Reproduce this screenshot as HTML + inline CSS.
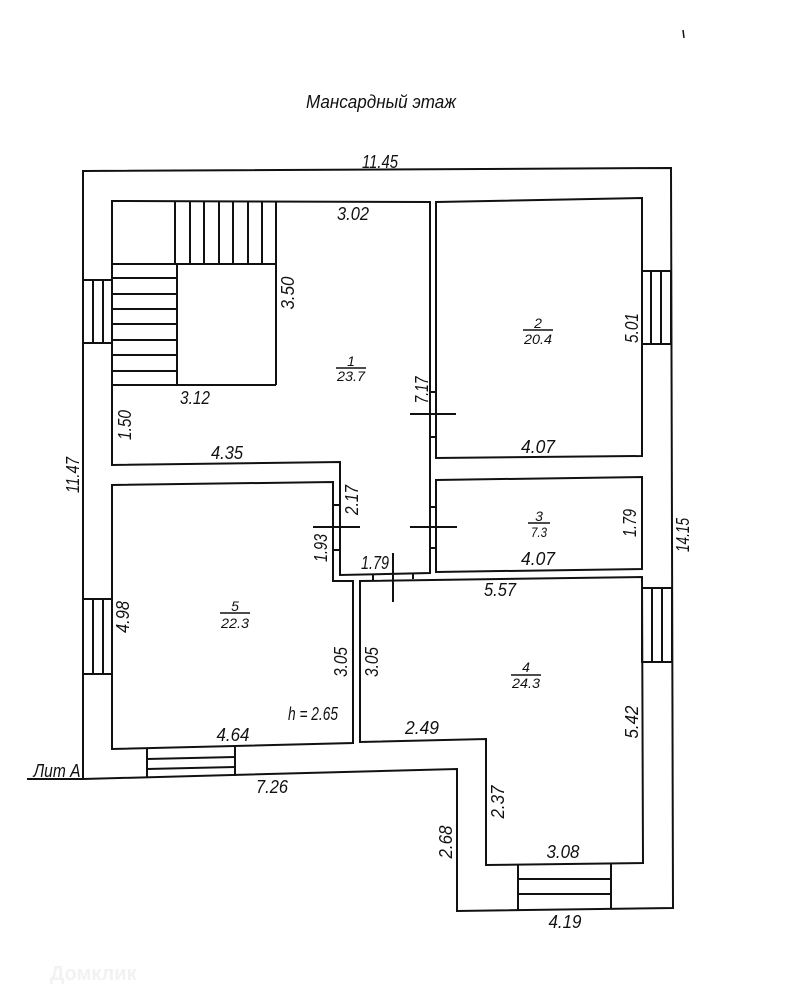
<!DOCTYPE html>
<html><head><meta charset="utf-8"><style>
html,body{margin:0;padding:0;background:#fff;}
svg{display:block;}
text{font-family:"Liberation Sans","DejaVu Sans",sans-serif;font-style:italic;fill:#111;}
.d{font-size:18px;}
.r{font-size:14px;}
</style></head><body>
<svg width="785" height="1000" viewBox="0 0 785 1000" xmlns="http://www.w3.org/2000/svg">
<rect width="785" height="1000" fill="#fff"/>
<g fill="none" stroke="#111" stroke-width="2" stroke-linejoin="miter">
<!-- outer contour -->
<polyline points="27,779 83,779 83,171 671,168 673,908 457,911 457,769 83,779"/>
<!-- room 1 -->
<polygon points="112,201 430,202 430,573 340,575 340,462 112,465"/>
<!-- room 5 -->
<polygon points="112,485 333,482 333,581 353,581 353,743 112,749"/>
<!-- room 2 -->
<polygon points="436,202 642,198 642,456 436,458"/>
<!-- room 3 -->
<polygon points="436,480 642,477 642,569 436,572"/>
<!-- room 4 -->
<polygon points="360,581 642,577 643,863 486,865 486,739 360,742"/>
<!-- stairs -->
<line x1="175" y1="201" x2="175" y2="264"/>
<line x1="112" y1="264" x2="276" y2="264"/>
<line x1="276" y1="201" x2="276" y2="385"/>
<line x1="112" y1="385" x2="276" y2="385"/>
<line x1="177" y1="264" x2="177" y2="385"/>
<line x1="190" y1="201" x2="190" y2="264"/>
<line x1="204" y1="201" x2="204" y2="264"/>
<line x1="219" y1="201" x2="219" y2="264"/>
<line x1="233" y1="201" x2="233" y2="264"/>
<line x1="248" y1="201" x2="248" y2="264"/>
<line x1="262" y1="201" x2="262" y2="264"/>
<line x1="112" y1="278" x2="177" y2="278"/>
<line x1="112" y1="294" x2="177" y2="294"/>
<line x1="112" y1="309" x2="177" y2="309"/>
<line x1="112" y1="324" x2="177" y2="324"/>
<line x1="112" y1="340" x2="177" y2="340"/>
<line x1="112" y1="355" x2="177" y2="355"/>
<line x1="112" y1="371" x2="177" y2="371"/>
<!-- door ticks -->
<line x1="430" y1="392" x2="436" y2="392"/>
<line x1="430" y1="437" x2="436" y2="437"/>
<line x1="430" y1="507" x2="436" y2="507"/>
<line x1="430" y1="548" x2="436" y2="548"/>
<line x1="333" y1="505" x2="340" y2="505"/>
<line x1="333" y1="550" x2="340" y2="550"/>
<line x1="373" y1="574" x2="373" y2="580"/>
<line x1="413" y1="573" x2="413" y2="579"/>
<!-- door crosses -->
<line x1="410" y1="414" x2="456" y2="414"/>
<line x1="313" y1="527" x2="360" y2="527"/>
<line x1="410" y1="527" x2="457" y2="527"/>
<line x1="393" y1="553" x2="393" y2="602"/>
<!-- windows left -->
<rect x="83" y="280" width="29" height="63"/>
<line x1="93" y1="280" x2="93" y2="343"/>
<line x1="103" y1="280" x2="103" y2="343"/>
<rect x="83" y="599" width="29" height="75"/>
<line x1="93" y1="599" x2="93" y2="674"/>
<line x1="103" y1="599" x2="103" y2="674"/>
<!-- windows right -->
<rect x="642" y="271" width="29" height="73"/>
<line x1="651" y1="271" x2="651" y2="344"/>
<line x1="661" y1="271" x2="661" y2="344"/>
<rect x="642" y="588" width="30" height="74"/>
<line x1="652" y1="588" x2="652" y2="662"/>
<line x1="662" y1="588" x2="662" y2="662"/>
<!-- windows bottom -->
<line x1="147" y1="749" x2="147" y2="778"/>
<line x1="235" y1="747" x2="235" y2="776"/>
<line x1="147" y1="759" x2="235" y2="757"/>
<line x1="147" y1="769" x2="235" y2="767"/>
<line x1="518" y1="864" x2="518" y2="910"/>
<line x1="611" y1="863" x2="611" y2="909"/>
<line x1="518" y1="879" x2="611" y2="879"/>
<line x1="518" y1="894" x2="611" y2="894"/>
<!-- room label bars -->
<line x1="336" y1="368" x2="366" y2="368" stroke-width="1.5"/>
<line x1="523" y1="330" x2="553" y2="330" stroke-width="1.5"/>
<line x1="528" y1="523" x2="550" y2="523" stroke-width="1.5"/>
<line x1="220" y1="613" x2="250" y2="613" stroke-width="1.5"/>
<line x1="511" y1="675" x2="541" y2="675" stroke-width="1.5"/>
<!-- tiny mark -->
<line x1="683" y1="30" x2="684" y2="38" stroke-width="1.5"/>
</g>

<!-- title -->
<text x="306" y="108" font-size="18" textLength="150" lengthAdjust="spacingAndGlyphs">Мансардный этаж</text>

<!-- horizontal dimensions -->
<g class="d" text-anchor="middle">
<text x="380" y="168" textLength="36" lengthAdjust="spacingAndGlyphs">11.45</text>
<text x="353" y="220" textLength="32" lengthAdjust="spacingAndGlyphs">3.02</text>
<text x="195" y="404" textLength="30" lengthAdjust="spacingAndGlyphs">3.12</text>
<text x="227" y="459" textLength="32" lengthAdjust="spacingAndGlyphs">4.35</text>
<text x="538" y="453" textLength="34" lengthAdjust="spacingAndGlyphs">4.07</text>
<text x="538" y="565" textLength="34" lengthAdjust="spacingAndGlyphs">4.07</text>
<text x="375" y="569" textLength="28" lengthAdjust="spacingAndGlyphs">1.79</text>
<text x="500" y="596" textLength="32" lengthAdjust="spacingAndGlyphs">5.57</text>
<text x="313" y="720" textLength="50" lengthAdjust="spacingAndGlyphs">h = 2.65</text>
<text x="233" y="741" textLength="33" lengthAdjust="spacingAndGlyphs">4.64</text>
<text x="422" y="734" textLength="34" lengthAdjust="spacingAndGlyphs">2.49</text>
<text x="272" y="793" textLength="32" lengthAdjust="spacingAndGlyphs">7.26</text>
<text x="563" y="858" textLength="33" lengthAdjust="spacingAndGlyphs">3.08</text>
<text x="565" y="928" textLength="33" lengthAdjust="spacingAndGlyphs">4.19</text>
<text x="57" y="777" textLength="47" lengthAdjust="spacingAndGlyphs">Лит А</text>
</g>

<!-- vertical dimensions -->
<g class="d" text-anchor="middle">
<text x="288" y="299" transform="rotate(-90 288 293)" textLength="33" lengthAdjust="spacingAndGlyphs">3.50</text>
<text x="125" y="431" transform="rotate(-90 125 425)" textLength="30" lengthAdjust="spacingAndGlyphs">1.50</text>
<text x="422" y="396" transform="rotate(-90 422 390)" textLength="27" lengthAdjust="spacingAndGlyphs">7.17</text>
<text x="632" y="334" transform="rotate(-90 632 328)" textLength="30" lengthAdjust="spacingAndGlyphs">5.01</text>
<text x="73" y="481" transform="rotate(-90 73 475)" textLength="36" lengthAdjust="spacingAndGlyphs">11.47</text>
<text x="352" y="506" transform="rotate(-90 352 500)" textLength="30" lengthAdjust="spacingAndGlyphs">2.17</text>
<text x="321" y="554" transform="rotate(-90 321 548)" textLength="28" lengthAdjust="spacingAndGlyphs">1.93</text>
<text x="630" y="529" transform="rotate(-90 630 523)" textLength="28" lengthAdjust="spacingAndGlyphs">1.79</text>
<text x="683" y="541" transform="rotate(-90 683 535)" textLength="34" lengthAdjust="spacingAndGlyphs">14.15</text>
<text x="123" y="623" transform="rotate(-90 123 617)" textLength="32" lengthAdjust="spacingAndGlyphs">4.98</text>
<text x="341" y="668" transform="rotate(-90 341 662)" textLength="30" lengthAdjust="spacingAndGlyphs">3.05</text>
<text x="372" y="668" transform="rotate(-90 372 662)" textLength="30" lengthAdjust="spacingAndGlyphs">3.05</text>
<text x="632" y="728" transform="rotate(-90 632 722)" textLength="33" lengthAdjust="spacingAndGlyphs">5.42</text>
<text x="498" y="808" transform="rotate(-90 498 802)" textLength="33" lengthAdjust="spacingAndGlyphs">2.37</text>
<text x="446" y="848" transform="rotate(-90 446 842)" textLength="33" lengthAdjust="spacingAndGlyphs">2.68</text>
</g>

<!-- room labels -->
<g class="r" text-anchor="middle">
<text x="351" y="366">1</text>
<text x="351" y="381" textLength="28" lengthAdjust="spacingAndGlyphs">23.7</text>
<text x="538" y="328">2</text>
<text x="538" y="344" textLength="28" lengthAdjust="spacingAndGlyphs">20.4</text>
<text x="539" y="521">3</text>
<text x="539" y="537" textLength="16" lengthAdjust="spacingAndGlyphs">7.3</text>
<text x="235" y="611">5</text>
<text x="235" y="628" textLength="28" lengthAdjust="spacingAndGlyphs">22.3</text>
<text x="526" y="672">4</text>
<text x="526" y="688" textLength="28" lengthAdjust="spacingAndGlyphs">24.3</text>
</g>

<!-- faint watermark -->
<text x="50" y="980" font-size="20" style="font-style:normal;font-weight:bold;fill:#f2f2f2">Домклик</text>
</svg>
</body></html>
